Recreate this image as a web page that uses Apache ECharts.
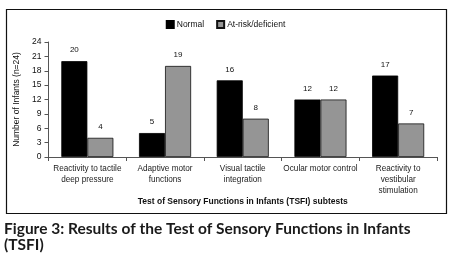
<!DOCTYPE html>
<html>
<head>
<meta charset="utf-8">
<script src="https://cdn.jsdelivr.net/npm/echarts@6/dist/echarts.min.js"></script>
<style>
  html, body { margin: 0; padding: 0; background: #fff; }
  #chart { width: 451px; height: 255px; }
</style>
</head>
<body>
<div id="chart"></div>
<script>
// TSFI subtests, wrapped the way the figure wraps them
var categories = [
  'Reactivity to tactile\ndeep pressure',
  'Adaptive motor\nfunctions',
  'Visual tactile\nintegration',
  'Ocular motor control',
  'Reactivity to\nvestibular\nstimulation'
];
var normal = [20, 5, 16, 12, 17];
var atRisk = [4, 19, 8, 12, 7];
var yTicks = { min: 0, max: 24, step: 3 };

var myChart = echarts.init(document.getElementById('chart'));
var font = 'Liberation Sans';

var barLabel = {
  show: true,
  position: 'top',
  distance: 7,
  color: '#111',
  fontFamily: font,
  fontSize: 8
};

var option = {
  animation: false,
  textStyle: { fontFamily: font },
  legend: {
    top: 15,
    left: 'center',
    itemWidth: 7,
    itemHeight: 7,
    itemGap: 12,
    icon: 'rect',
    textStyle: { fontSize: 8.5, color: '#111', padding: [0, 0, 0, -2] },
    data: ['Normal', 'At-risk/deficient']
  },
  grid: { left: 48.5, right: 14, top: 42, bottom: 98 },
  xAxis: {
    type: 'category',
    data: categories,
    name: 'Test of Sensory Functions in Infants (TSFI) subtests',
    nameLocation: 'middle',
    nameGap: 39,
    nameTextStyle: { fontSize: 8.5, fontWeight: 'bold', color: '#111' },
    axisLine: { lineStyle: { color: '#555', width: 1 } },
    axisTick: { show: true, length: 4, lineStyle: { color: '#555' } },
    axisLabel: { interval: 0, fontSize: 8.2, color: '#222', lineHeight: 11, margin: 6 },
    splitLine: { show: false }
  },
  yAxis: {
    type: 'value',
    min: yTicks.min,
    max: yTicks.max,
    interval: yTicks.step,
    name: 'Number of Infants (n=24)',
    nameLocation: 'middle',
    nameGap: 27,
    nameTextStyle: { fontSize: 8.5, color: '#111' },
    axisLine: { show: true, lineStyle: { color: '#555', width: 1 } },
    axisTick: { show: true, length: 4, lineStyle: { color: '#555' } },
    axisLabel: { fontSize: 8.5, color: '#111', margin: 7 },
    splitLine: { show: false }
  },
  series: [
    {
      name: 'Normal',
      type: 'bar',
      data: normal,
      barGap: '0%',
      barCategoryGap: '33%',
      itemStyle: { color: '#000', borderColor: '#000', borderWidth: 0.8 },
      label: barLabel
    },
    {
      name: 'At-risk/deficient',
      type: 'bar',
      data: atRisk,
      itemStyle: { color: '#959595', borderColor: '#111', borderWidth: 0.8 },
      label: barLabel
    }
  ],
  graphic: [
    {
      type: 'rect',
      shape: { x: 6.5, y: 9.5, width: 440, height: 204 },
      style: { fill: 'none', stroke: '#111', lineWidth: 1.2 },
      silent: true
    },
    {
      type: 'text',
      left: 4,
      top: 221,
      style: {
        text: 'Figure 3: Results of the Test of Sensory Functions in Infants\n(TSFI)',
        fontFamily: 'Lato',
        fontWeight: 'bold',
        fontSize: 15.5,
        lineHeight: 16,
        fill: '#1a1a1a'
      }
    }
  ]
};

myChart.setOption(option);
</script>
</body>
</html>
